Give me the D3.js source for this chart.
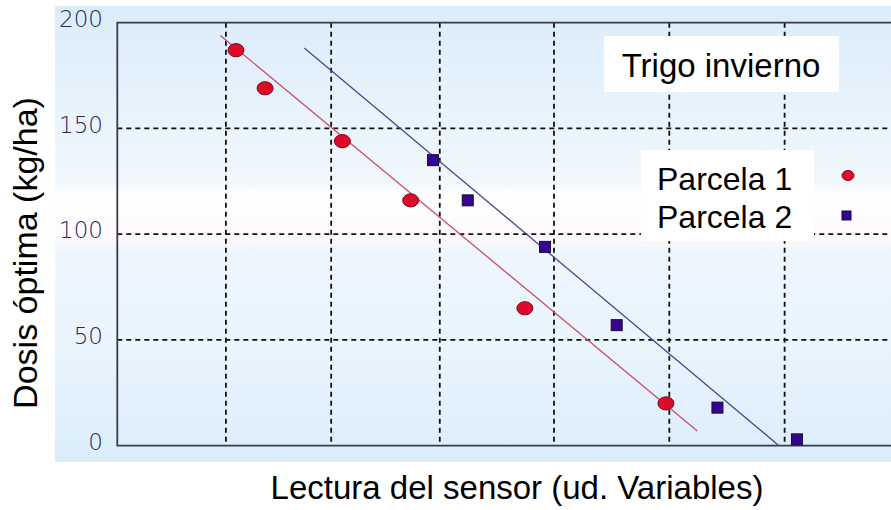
<!DOCTYPE html>
<html lang="es">
<head>
    <meta charset="UTF-8">
    <title>Trigo invierno</title>
    <script src="https://cdn.jsdelivr.net/npm/d3@7"></script>
    <style>
        body { margin: 0; background: #fff; }
        text { font-family: "Liberation Sans", Arial, sans-serif; }
    </style>
</head>
<body>
<svg width="891" height="510"></svg>

<script>

    // valores
    var yTicks = [0, 50, 100, 150, 200];
    var gridX = [0.97, 1.91, 2.88, 3.90, 4.93, 5.96];

    var p1x = [1.06, 1.32, 2.01, 2.62, 3.64, 4.90];
    var p1y = [187, 169, 144, 116, 65, 20];
    var p2x = [2.82, 3.13, 3.82, 4.46, 5.36, 6.07];
    var p2y = [135, 116, 94, 57, 18, 3];

    // rectas de ajuste (inicio, fin)
    var fit1 = [[0.92, 194], [5.18, 7]];
    var fit2 = [[1.67, 188], [5.91, 0]];

    var seriesNames = ["Parcela 1", "Parcela 2"];

    var svg = d3.select("svg"),
        width = +svg.attr("width"),
        height = +svg.attr("height");

    var mLeft = 117.3, mTop = 22.7, mBottom = 445.7, mRight = width;

    var x = d3.scaleLinear().domain([0, 6.91]).range([mLeft, mRight]);
    var y = d3.scaleLinear().domain([0, 200]).range([mBottom, mTop]);

    var defs = svg.append("defs");
    var grad = defs.append("linearGradient")
        .attr("id", "bg")
        .attr("gradientUnits", "userSpaceOnUse")
        .attr("x1", 0).attr("y1", 6).attr("x2", 0).attr("y2", 462);
    [[0, "#dbecfa"], [0.2, "#e6f2fc"], [0.39, "#f1f8fd"], [0.41, "#ffffff"],
        [0.51, "#fdf9fc"], [0.54, "#eef6fd"], [0.75, "#e9f4fd"], [1, "#dbedfb"]]
        .forEach(function (s) {
            grad.append("stop").attr("offset", s[0]).attr("stop-color", s[1]);
        });

    svg.append("rect")
        .attr("x", 55).attr("y", 6)
        .attr("width", width - 55).attr("height", 456)
        .attr("fill", "url(#bg)");

    // rejilla
    svg.append("g")
        .selectAll("line")
        .data(gridX)
        .enter().append("line")
        .attr("x1", function (d) { return x(d); })
        .attr("x2", function (d) { return x(d); })
        .attr("y1", mTop)
        .attr("y2", mBottom)
        .attr("stroke", "#111")
        .attr("stroke-width", 1.8)
        .attr("stroke-dasharray", "5,4");

    svg.append("g")
        .selectAll("line")
        .data(yTicks.filter(function (d) { return d > 0 && d < 200; }))
        .enter().append("line")
        .attr("x1", mLeft)
        .attr("x2", mRight)
        .attr("y1", function (d) { return y(d); })
        .attr("y2", function (d) { return y(d); })
        .attr("stroke", "#111")
        .attr("stroke-width", 1.8)
        .attr("stroke-dasharray", "5,4");

    // ejes
    svg.append("path")
        .attr("d", "M" + mRight + "," + mTop + "H" + mLeft + "V" + mBottom + "H" + mRight)
        .attr("fill", "none")
        .attr("stroke", "#3a3a4a")
        .attr("stroke-width", 1.8);

    svg.append("g")
        .selectAll("text")
        .data(yTicks)
        .enter().append("text")
        .attr("x", 103)
        .attr("y", function (d) { return y(d) - 4; })
        .attr("dy", "0.36em")
        .attr("text-anchor", "end")
        .style("font-family", "'DejaVu Sans', sans-serif")
        .style("font-weight", 200)
        .style("font-size", "23px")
        .attr("fill", "#2a2a55")
        .text(function (d) { return d; });

    // rectas
    var line = d3.line()
        .x(function (d) { return x(d[0]); })
        .y(function (d) { return y(d[1]); });

    svg.append("path").datum(fit1)
        .attr("d", line)
        .attr("stroke", "#c8506e")
        .attr("stroke-width", 1.3)
        .attr("fill", "none");

    svg.append("path").datum(fit2)
        .attr("d", line)
        .attr("stroke", "#4a4a90")
        .attr("stroke-width", 1.3)
        .attr("fill", "none");

    // puntos
    svg.append("g")
        .selectAll("ellipse")
        .data(d3.zip(p1x, p1y))
        .enter().append("ellipse")
        .attr("cx", function (d) { return x(d[0]); })
        .attr("cy", function (d) { return y(d[1]); })
        .attr("rx", 8)
        .attr("ry", 6.6)
        .attr("fill", "#dd0a2a")
        .attr("stroke", "#7a0a1a")
        .attr("stroke-width", 1);

    svg.append("g")
        .selectAll("rect")
        .data(d3.zip(p2x, p2y))
        .enter().append("rect")
        .attr("x", function (d) { return x(d[0]) - 5.5; })
        .attr("y", function (d) { return y(d[1]) - 5.5; })
        .attr("width", 11)
        .attr("height", 11)
        .attr("fill", "#35058f")
        .attr("stroke", "#1a0840")
        .attr("stroke-width", 1);

    // titulo
    svg.append("rect")
        .attr("x", 604).attr("y", 36)
        .attr("width", 235).attr("height", 56)
        .attr("fill", "#fff");
    svg.append("text")
        .attr("x", 721).attr("y", 77)
        .attr("text-anchor", "middle")
        .style("font-size", "33px")
        .attr("fill", "#000")
        .text("Trigo invierno");

    // leyenda
    svg.append("rect")
        .attr("x", 641).attr("y", 150)
        .attr("width", 173).attr("height", 91)
        .attr("fill", "#fff");

    svg.append("g")
        .selectAll("text")
        .data(seriesNames)
        .enter().append("text")
        .attr("x", 657)
        .attr("y", function (d, i) { return 190 + i * 38; })
        .style("font-size", "32px")
        .attr("fill", "#000")
        .text(function (d) { return d; });

    svg.append("ellipse")
        .attr("cx", 848).attr("cy", 175.5)
        .attr("rx", 6).attr("ry", 5)
        .attr("fill", "#dd0a2a")
        .attr("stroke", "#7a0a1a");
    svg.append("rect")
        .attr("x", 842).attr("y", 211)
        .attr("width", 9).attr("height", 9)
        .attr("fill", "#35058f")
        .attr("stroke", "#1a0840");

    // titulos de ejes
    svg.append("text")
        .attr("x", 517).attr("y", 499)
        .attr("text-anchor", "middle")
        .style("font-size", "33px")
        .attr("fill", "#000")
        .text("Lectura del sensor (ud. Variables)");

    svg.append("text")
        .attr("transform", "translate(37,253) rotate(-90)")
        .attr("text-anchor", "middle")
        .style("font-size", "34px")
        .attr("fill", "#000")
        .text("Dosis óptima (kg/ha)");

</script>

</body>
</html>
